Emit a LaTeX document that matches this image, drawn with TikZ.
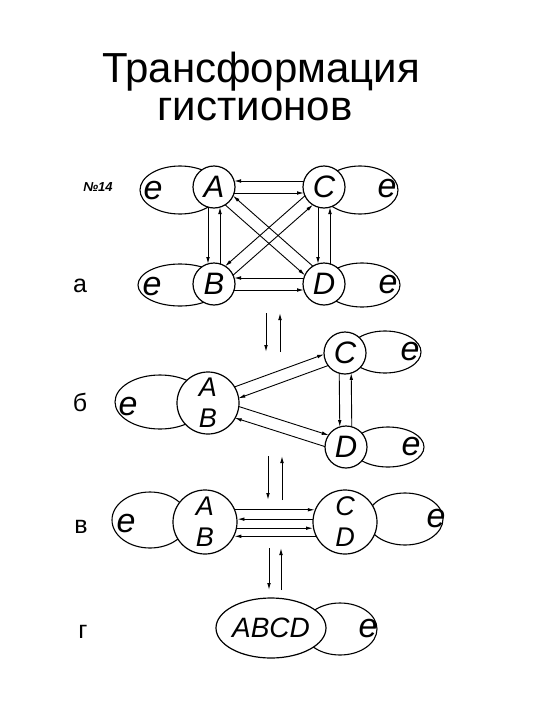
\documentclass[tikz,border=0pt]{standalone}
\usepackage{fontspec}
\setmainfont{Liberation Sans}
\usetikzlibrary{arrows.meta,calc,shapes.geometric}
\tikzset{
 ion/.style={circle,draw,line width=1.2pt,fill=white,inner sep=0pt,align=center,
   font=\fontsize{31}{31}\selectfont\itshape},
 ion2/.style={ion,font=\fontsize{27}{31}\selectfont\itshape},
 eloop/.style={ellipse,draw,line width=1.1pt,fill=white,inner sep=0pt},
 etext/.style={font=\fontsize{34}{34}\selectfont\itshape},
 arr/.style={line width=0.9pt,-{Latex[length=7pt,width=3.6pt]}},
 lbl/.style={font=\fontsize{25}{25}\selectfont},
 ttl/.style={font=\fontsize{42}{38}\selectfont,anchor=base,align=center},
}
\newcommand{\duo}[6]{%
 \draw[arr,shorten <=#5,shorten >=#6] ($(#1)!6pt!#3:(#2)$) -- ($(#2)!6pt!#4:(#1)$);
 \draw[arr,shorten <=#6,shorten >=#5] ($(#2)!6pt!#3:(#1)$) -- ($(#1)!6pt!#4:(#2)$);
}
\begin{document}
\begin{tikzpicture}[x=1pt,y=-1pt]
\useasboundingbox (0,0) rectangle (540,720);
% title
\node[ttl] (t1) at (261,120) {Трансформация\\гистионов\hspace*{12pt}};
% labels
\node[font=\fontsize{13}{13}\selectfont\bfseries\itshape] (num) at (98,187) {№14};
\node[lbl] (la) at (80,286) {а};
\node[lbl] (lb) at (80,402) {б};
\node[lbl] (lv) at (81,527) {в};
\node[lbl] (lg) at (83,632) {г};

% ---- stage a ----
\node[eloop,minimum width=80pt,minimum height=48pt] (eA) at (180,190) {};
\node[eloop,minimum width=76pt,minimum height=48pt] (eC) at (360,190) {};
\node[eloop,minimum width=84pt,minimum height=42pt] (eB) at (180,285) {};
\node[eloop,minimum width=76pt,minimum height=44pt] (eD) at (362,285) {};
\node[etext] (xA) at (153,191) {e};
\node[etext] (xC) at (387,189) {e};
\node[etext] (xB) at (152,287) {e};
\node[etext] (xD) at (388,285) {e};
\node[ion,minimum size=42pt] (A) at (214,187) {A};
\node[ion,minimum size=42pt] (C) at (324,187) {C};
\node[ion,minimum size=42pt] (B) at (214,284) {B};
\node[ion,minimum size=42pt] (D) at (324,284) {D};
\duo{A}{C}{-90}{90}{20pt}{20pt}
\duo{A}{B}{-90}{90}{20pt}{20pt}
\duo{C}{D}{-90}{90}{20pt}{20pt}
\duo{B}{D}{-90}{90}{20pt}{20pt}
\duo{A}{D}{-90}{90}{20pt}{20pt}
\duo{C}{B}{-90}{90}{20pt}{20pt}

% transitions
\coordinate (p1a) at (266,313); \coordinate (p1b) at (266,352);
\coordinate (q1a) at (280,352); \coordinate (q1b) at (280,313);
\draw[arr] (p1a) -- (p1b); \draw[arr] (q1a) -- (q1b);
\coordinate (p2a) at (268,456); \coordinate (p2b) at (268,500);
\coordinate (q2a) at (282,500); \coordinate (q2b) at (282,456);
\draw[arr] (p2a) -- (p2b); \draw[arr] (q2a) -- (q2b);
\coordinate (p3a) at (269,548); \coordinate (p3b) at (269,590);
\coordinate (q3a) at (281,590); \coordinate (q3b) at (281,548);
\draw[arr] (p3a) -- (p3b); \draw[arr] (q3a) -- (q3b);

% ---- stage b ----
\node[eloop,minimum width=90pt,minimum height=54pt] (eAB2) at (160,402) {};
\node[eloop,minimum width=72pt,minimum height=42pt] (eC2) at (385,352) {};
\node[eloop,minimum width=72pt,minimum height=40pt] (eD2) at (388,447) {};
\node[etext] (xAB2) at (128,407) {e};
\node[etext] (xC2) at (410,352) {e};
\node[etext] (xD2) at (411,447) {e};
\node[ion2,minimum size=62pt] (AB2) at (208,403) {A\\B};
\node[ion,minimum size=42pt] (C2) at (345,353) {C};
\node[ion,minimum size=42pt] (D2) at (346,447) {D};
\duo{AB2}{C2}{90}{-90}{30pt}{20pt}
\duo{AB2}{D2}{90}{-90}{30pt}{20pt}
\duo{C2}{D2}{-90}{90}{20pt}{20pt}

% ---- stage c ----
\node[eloop,minimum width=76pt,minimum height=56pt] (eAB3) at (150,520) {};
\node[eloop,minimum width=76pt,minimum height=52pt] (eCD3) at (405,519) {};
\node[etext] (xAB3) at (126,524) {e};
\node[etext] (xCD3) at (436,519) {e};
\node[ion2,minimum size=64pt] (AB3) at (205,522) {A\\B};
\node[ion2,minimum size=64pt] (CD3) at (345,522) {C\\D};
\draw[arr] (AB3.22) -- (CD3.158);
\draw[arr] (CD3.175) -- (AB3.5);
\draw[arr] (AB3.349) -- (CD3.191);
\draw[arr] (CD3.206) -- (AB3.334);

% ---- stage d ----
\node[eloop,minimum width=74pt,minimum height=52pt] (eABCD) at (340,629) {};
\node[etext] (xABCD) at (368,629) {e};
\node[ellipse,draw,line width=1.2pt,fill=white,inner sep=0pt,minimum width=96pt,minimum height=60pt,
  font=\fontsize{28}{28}\selectfont\itshape] (ABCD) at (271,628) {ABCD};
\end{tikzpicture}
\end{document}
